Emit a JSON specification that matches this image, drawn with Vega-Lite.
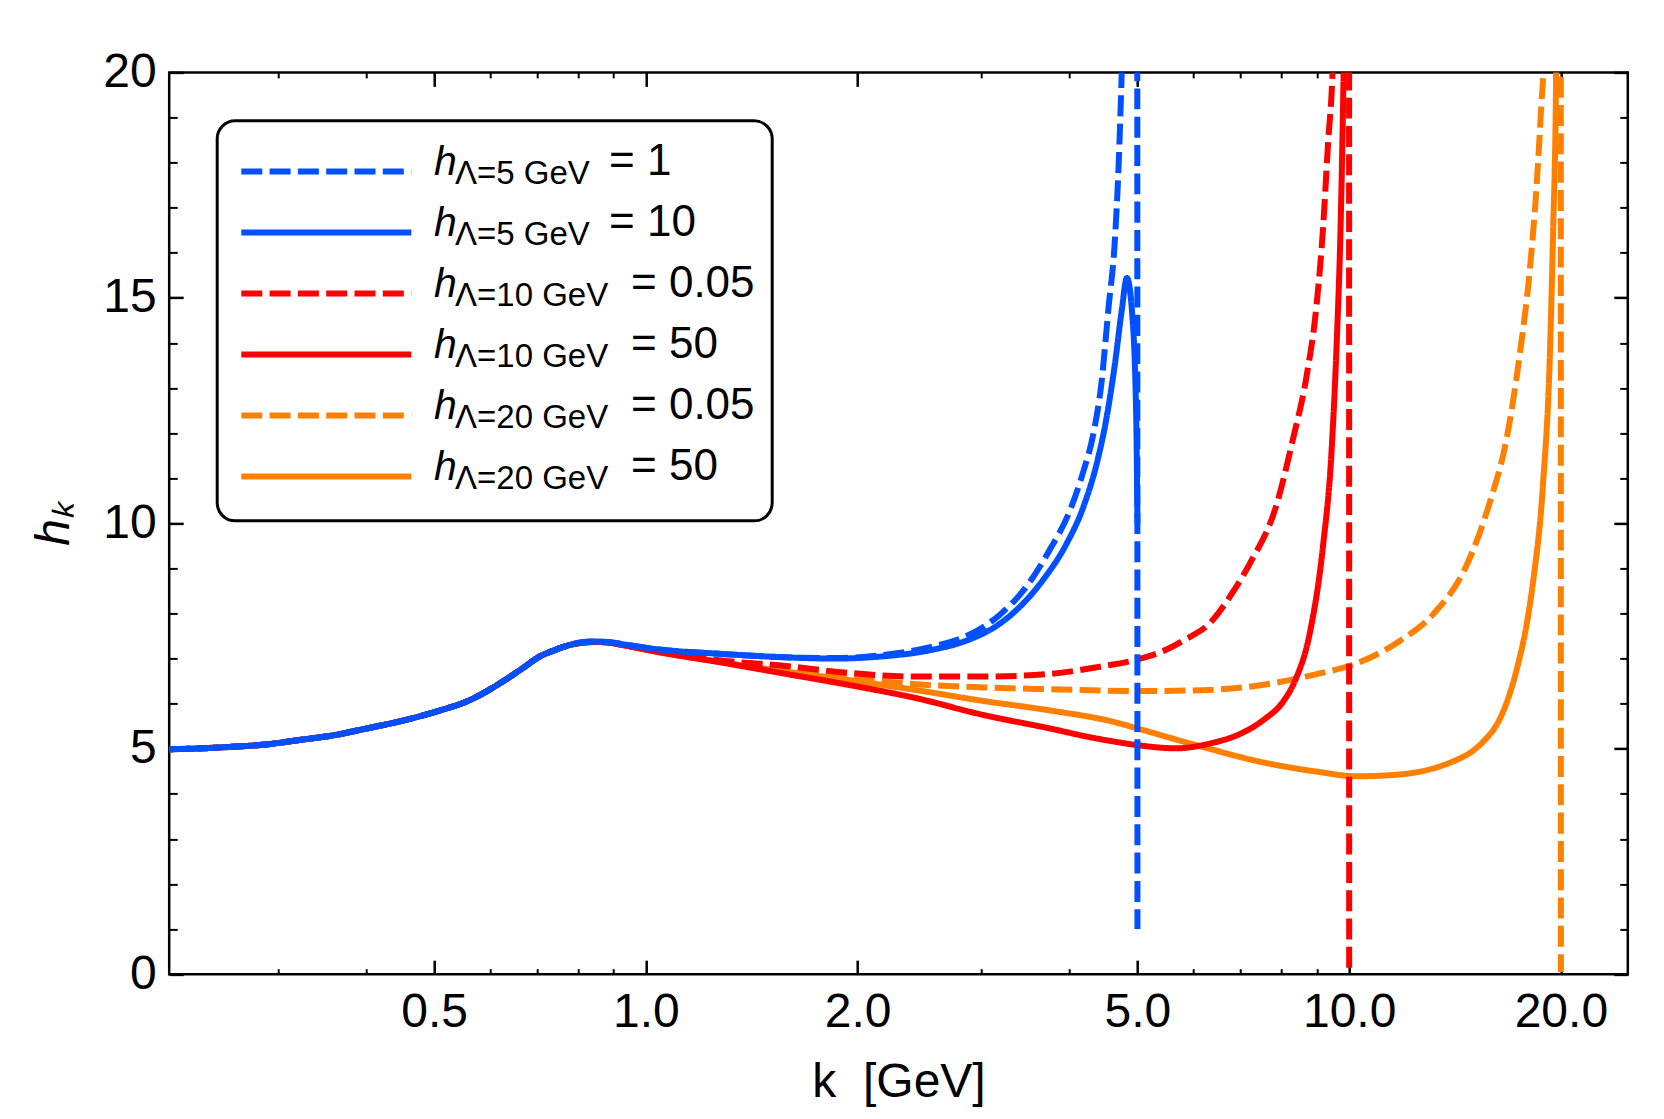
{
  "$schema": "https://vega.github.io/schema/vega-lite/v6.json",
  "width": 1458.6,
  "height": 901.8,
  "autosize": {"type": "none"},
  "padding": {"left": 169.2, "top": 72.4, "right": 36.2, "bottom": 144.8},
  "background": "white",
  "config": {
    "view": {"stroke": "black", "strokeWidth": 2.5},
    "font": "Liberation Sans",
    "axis": {"labelFont": "Liberation Sans", "titleFont": "Liberation Sans", "labelColor": "black", "titleColor": "black", "tickColor": "black", "grid": false, "domain": false}
  },
  "data": {"values": [
    {"s":"f","k":0.21,"h":4.99},{"s":"f","k":0.235,"h":5.01},{"s":"f","k":0.2555,"h":5.04},{"s":"f","k":0.29,"h":5.1},{"s":"f","k":0.32,"h":5.19},{"s":"f","k":0.36,"h":5.3},{"s":"f","k":0.401,"h":5.45},{"s":"f","k":0.45,"h":5.62},{"s":"f","k":0.502,"h":5.82},{"s":"f","k":0.562,"h":6.08},{"s":"f","k":0.63,"h":6.52},{"s":"f","k":0.67,"h":6.8},{"s":"f","k":0.705,"h":7.04},{"s":"f","k":0.74,"h":7.18},{"s":"f","k":0.771,"h":7.28},{"s":"f","k":0.81,"h":7.35},{"s":"f","k":0.844,"h":7.37},{"s":"f","k":0.89,"h":7.35},{"s":"f","k":0.934,"h":7.29},
    {"s":"f","k":1.045,"h":7.14},{"s":"f","k":1.261,"h":6.94},{"s":"f","k":1.569,"h":6.72},{"s":"f","k":1.951,"h":6.52},{"s":"f","k":2.427,"h":6.3},{"s":"f","k":3.018,"h":6.06},{"s":"f","k":3.754,"h":5.85},{"s":"f","k":4.67,"h":5.58},{"s":"f","k":5.0,"h":5.45},{"s":"f","k":6.19,"h":5.04},{"s":"f","k":7.48,"h":4.71},{"s":"f","k":9.02,"h":4.49},{"s":"f","k":10.23,"h":4.39},{"s":"f","k":11.59,"h":4.42},{"s":"f","k":13.14,"h":4.56},{"s":"f","k":14.2,"h":4.75},{"s":"f","k":14.89,"h":4.92},{"s":"f","k":15.6,"h":5.2},{"s":"f","k":16.3,"h":5.6},{"s":"f","k":16.9,"h":6.2},{"s":"f","k":17.4,"h":6.9},{"s":"f","k":17.9,"h":7.8},{"s":"f","k":18.26,"h":8.7},{"s":"f","k":18.87,"h":10.9},{"s":"f","k":19.29,"h":13.7},{"s":"f","k":19.5,"h":16.5},{"s":"f","k":19.67,"h":19.3},{"s":"f","k":19.72,"h":21},{"s":"f","k":19.9,"h":28},

    {"s":"e","k":0.21,"h":4.99},{"s":"e","k":0.235,"h":5.01},{"s":"e","k":0.2555,"h":5.04},{"s":"e","k":0.29,"h":5.1},{"s":"e","k":0.32,"h":5.19},{"s":"e","k":0.36,"h":5.3},{"s":"e","k":0.401,"h":5.45},{"s":"e","k":0.45,"h":5.62},{"s":"e","k":0.502,"h":5.82},{"s":"e","k":0.562,"h":6.08},{"s":"e","k":0.63,"h":6.52},{"s":"e","k":0.67,"h":6.8},{"s":"e","k":0.705,"h":7.04},{"s":"e","k":0.74,"h":7.18},{"s":"e","k":0.771,"h":7.28},{"s":"e","k":0.81,"h":7.35},{"s":"e","k":0.844,"h":7.37},{"s":"e","k":0.89,"h":7.35},{"s":"e","k":0.934,"h":7.29},
    {"s":"e","k":1.045,"h":7.15},{"s":"e","k":1.261,"h":6.95},{"s":"e","k":1.569,"h":6.82},{"s":"e","k":1.951,"h":6.58},{"s":"e","k":2.427,"h":6.43},{"s":"e","k":3.018,"h":6.36},{"s":"e","k":3.754,"h":6.32},{"s":"e","k":5.0,"h":6.28},{"s":"e","k":6.19,"h":6.3},{"s":"e","k":7.48,"h":6.41},{"s":"e","k":9.02,"h":6.66},{"s":"e","k":10.23,"h":6.89},{"s":"e","k":11.8,"h":7.39},{"s":"e","k":13.16,"h":7.98},{"s":"e","k":14.69,"h":9.07},{"s":"e","k":15.85,"h":10.47},{"s":"e","k":16.74,"h":11.87},{"s":"e","k":17.48,"h":13.74},{"s":"e","k":18.06,"h":15.6},{"s":"e","k":18.47,"h":17.47},{"s":"e","k":18.77,"h":19.34},{"s":"e","k":18.9,"h":20.2},{"s":"e","k":19.0,"h":22},{"s":"e","k":19.995,"h":30},{"s":"e","k":20.0,"h":0.05},

    {"s":"d","k":0.21,"h":4.99},{"s":"d","k":0.235,"h":5.01},{"s":"d","k":0.2555,"h":5.04},{"s":"d","k":0.29,"h":5.1},{"s":"d","k":0.32,"h":5.19},{"s":"d","k":0.36,"h":5.3},{"s":"d","k":0.401,"h":5.45},{"s":"d","k":0.45,"h":5.62},{"s":"d","k":0.502,"h":5.82},{"s":"d","k":0.562,"h":6.08},{"s":"d","k":0.63,"h":6.52},{"s":"d","k":0.67,"h":6.8},{"s":"d","k":0.705,"h":7.04},{"s":"d","k":0.74,"h":7.18},{"s":"d","k":0.771,"h":7.28},{"s":"d","k":0.81,"h":7.35},{"s":"d","k":0.844,"h":7.37},{"s":"d","k":0.89,"h":7.35},{"s":"d","k":0.934,"h":7.29},
    {"s":"d","k":1.045,"h":7.14},{"s":"d","k":1.261,"h":6.93},{"s":"d","k":1.569,"h":6.67},{"s":"d","k":1.951,"h":6.41},{"s":"d","k":2.427,"h":6.12},{"s":"d","k":3.018,"h":5.75},{"s":"d","k":3.754,"h":5.45},{"s":"d","k":4.3,"h":5.25},{"s":"d","k":4.67,"h":5.15},{"s":"d","k":5.0,"h":5.08},{"s":"d","k":5.68,"h":5.01},{"s":"d","k":6.35,"h":5.12},{"s":"d","k":7.02,"h":5.34},{"s":"d","k":7.57,"h":5.65},{"s":"d","k":8.06,"h":6.05},{"s":"d","k":8.37,"h":6.5},{"s":"d","k":8.8,"h":7.6},{"s":"d","k":9.18,"h":9.5},{"s":"d","k":9.44,"h":11.6},{"s":"d","k":9.6,"h":14.0},{"s":"d","k":9.72,"h":16.5},{"s":"d","k":9.8,"h":19.2},{"s":"d","k":9.84,"h":21},{"s":"d","k":9.9,"h":26},

    {"s":"c","k":0.21,"h":4.99},{"s":"c","k":0.235,"h":5.01},{"s":"c","k":0.2555,"h":5.04},{"s":"c","k":0.29,"h":5.1},{"s":"c","k":0.32,"h":5.19},{"s":"c","k":0.36,"h":5.3},{"s":"c","k":0.401,"h":5.45},{"s":"c","k":0.45,"h":5.62},{"s":"c","k":0.502,"h":5.82},{"s":"c","k":0.562,"h":6.08},{"s":"c","k":0.63,"h":6.52},{"s":"c","k":0.67,"h":6.8},{"s":"c","k":0.705,"h":7.04},{"s":"c","k":0.74,"h":7.18},{"s":"c","k":0.771,"h":7.28},{"s":"c","k":0.81,"h":7.35},{"s":"c","k":0.844,"h":7.37},{"s":"c","k":0.89,"h":7.35},{"s":"c","k":0.934,"h":7.29},
    {"s":"c","k":1.045,"h":7.16},{"s":"c","k":1.261,"h":6.97},{"s":"c","k":1.569,"h":6.84},{"s":"c","k":1.951,"h":6.68},{"s":"c","k":2.427,"h":6.6},{"s":"c","k":3.018,"h":6.6},{"s":"c","k":3.754,"h":6.66},{"s":"c","k":4.42,"h":6.82},{"s":"c","k":5.0,"h":6.98},{"s":"c","k":5.5,"h":7.2},{"s":"c","k":5.81,"h":7.4},{"s":"c","k":6.35,"h":7.8},{"s":"c","k":6.85,"h":8.5},{"s":"c","k":7.22,"h":9.1},{"s":"c","k":7.88,"h":10.4},{"s":"c","k":8.32,"h":11.87},{"s":"c","k":8.7,"h":13.27},{"s":"c","k":8.99,"h":14.86},{"s":"c","k":9.18,"h":16.54},{"s":"c","k":9.33,"h":18.4},{"s":"c","k":9.47,"h":19.99},{"s":"c","k":9.5,"h":20.6},{"s":"c","k":9.995,"h":30},{"s":"c","k":10.0,"h":0.05},

    {"s":"b","k":0.21,"h":4.99},{"s":"b","k":0.235,"h":5.01},{"s":"b","k":0.2555,"h":5.04},{"s":"b","k":0.29,"h":5.1},{"s":"b","k":0.32,"h":5.19},{"s":"b","k":0.36,"h":5.3},{"s":"b","k":0.401,"h":5.45},{"s":"b","k":0.45,"h":5.62},{"s":"b","k":0.502,"h":5.82},{"s":"b","k":0.562,"h":6.08},{"s":"b","k":0.63,"h":6.52},{"s":"b","k":0.67,"h":6.8},{"s":"b","k":0.705,"h":7.04},{"s":"b","k":0.74,"h":7.18},{"s":"b","k":0.771,"h":7.28},{"s":"b","k":0.81,"h":7.36},{"s":"b","k":0.844,"h":7.38},{"s":"b","k":0.89,"h":7.36},{"s":"b","k":0.934,"h":7.31},
    {"s":"b","k":1.045,"h":7.2},{"s":"b","k":1.261,"h":7.11},{"s":"b","k":1.569,"h":7.03},{"s":"b","k":1.847,"h":7.0},{"s":"b","k":2.176,"h":7.05},{"s":"b","k":2.563,"h":7.2},{"s":"b","k":2.858,"h":7.4},{"s":"b","k":3.19,"h":7.78},{"s":"b","k":3.366,"h":8.08},{"s":"b","k":3.673,"h":8.75},{"s":"b","k":3.965,"h":9.55},{"s":"b","k":4.19,"h":10.37},{"s":"b","k":4.375,"h":11.32},{"s":"b","k":4.52,"h":12.35},{"s":"b","k":4.645,"h":13.54},{"s":"b","k":4.75,"h":14.73},{"s":"b","k":4.83,"h":15.44},{"s":"b","k":4.91,"h":14.73},{"s":"b","k":4.98,"h":12.35},{"s":"b","k":5.0,"h":10.0},

    {"s":"a","k":0.21,"h":4.99},{"s":"a","k":0.235,"h":5.01},{"s":"a","k":0.2555,"h":5.04},{"s":"a","k":0.29,"h":5.1},{"s":"a","k":0.32,"h":5.19},{"s":"a","k":0.36,"h":5.3},{"s":"a","k":0.401,"h":5.45},{"s":"a","k":0.45,"h":5.62},{"s":"a","k":0.502,"h":5.82},{"s":"a","k":0.562,"h":6.08},{"s":"a","k":0.63,"h":6.52},{"s":"a","k":0.67,"h":6.8},{"s":"a","k":0.705,"h":7.04},{"s":"a","k":0.74,"h":7.18},{"s":"a","k":0.771,"h":7.28},{"s":"a","k":0.81,"h":7.36},{"s":"a","k":0.844,"h":7.38},{"s":"a","k":0.89,"h":7.36},{"s":"a","k":0.934,"h":7.31},
    {"s":"a","k":1.045,"h":7.2},{"s":"a","k":1.261,"h":7.11},{"s":"a","k":1.569,"h":7.03},{"s":"a","k":1.847,"h":7.01},{"s":"a","k":2.176,"h":7.08},{"s":"a","k":2.563,"h":7.27},{"s":"a","k":2.858,"h":7.5},{"s":"a","k":3.19,"h":7.98},{"s":"a","k":3.478,"h":8.6},{"s":"a","k":3.754,"h":9.42},{"s":"a","k":4.01,"h":10.29},{"s":"a","k":4.19,"h":11.16},{"s":"a","k":4.325,"h":11.96},{"s":"a","k":4.446,"h":13.14},{"s":"a","k":4.545,"h":14.73},{"s":"a","k":4.645,"h":16.31},{"s":"a","k":4.7,"h":17.9},{"s":"a","k":4.75,"h":20.03},{"s":"a","k":4.77,"h":21},{"s":"a","k":4.995,"h":30},{"s":"a","k":5.0,"h":1.0}
  ]},
  "layer": [
    {
      "mark": {"type": "line", "clip": true, "strokeWidth": 6, "interpolate": "monotone"},
      "encoding": {
        "x": {"field": "k", "type": "quantitative",
          "scale": {"type": "log", "domain": [0.21, 24.9], "nice": false},
          "axis": {"orient": "bottom", "values": [0.5, 1, 2, 5, 10, 20], "format": ".1f", "labelFontSize": 48, "labelPadding": 28, "tickSize": -14, "tickWidth": 2.5, "labelFlush": false, "labelOverlap": false, "title": "k\u00a0 [GeV]", "titleFontSize": 48, "titleFontWeight": "normal", "titlePadding": 22}},
        "y": {"field": "h", "type": "quantitative",
          "scale": {"domain": [0, 20], "nice": false, "zero": false},
          "axis": {"orient": "left", "values": [0, 5, 10, 15, 20], "format": "d", "labelFontSize": 48, "labelPadding": 27, "tickSize": -14, "tickWidth": 2.5, "labelFlush": false, "labelOverlap": false, "title": "hₖ", "titleFontSize": 48, "titleFontStyle": "italic", "titleFontWeight": "normal", "titlePadding": 24}},
        "color": {"field": "s", "type": "nominal",
          "scale": {"domain": ["a","b","c","d","e","f"], "range": ["#0050ff", "#0050ff", "#ff0000", "#ff0000", "#ff8000", "#ff8000"]},
          "legend": {"orient": "none", "legendX": 69.1, "legendY": 68.95, "direction": "vertical", "title": null, "symbolType": "stroke", "symbolSize": 28900, "symbolStrokeWidth": 6, "symbolOffset": 0, "labelOffset": 19.7, "labelFont": "Liberation Sans", "labelFontSize": 41, "labelFontStyle": "italic", "labelColor": "black", "labelBaseline": "alphabetic", "labelLimit": 2000, "labelExpr": "'h'", "clipHeight": 60.3, "rowPadding": 0, "padding": 0, "encode": {"symbols": {"update": {"strokeDash": {"signal": "(datum.value == 'a' || datum.value == 'c' || datum.value == 'e') ? [21, 7.3] : [1, 0]"}}}, "labels": {"update": {"dy": {"value": 3}}}}}},
        "strokeDash": {"field": "s", "type": "nominal",
          "scale": {"domain": ["a","b","c","d","e","f"], "range": [[21, 7.3], [1, 0], [21, 7.3], [1, 0], [21, 7.3], [1, 0]]},
          "legend": null},
        "opacity": {"field": "s", "type": "nominal",
          "scale": {"domain": ["a","b","c","d","e","f","g"], "range": [1, 1]},
          "legend": {"orient": "none", "legendX": 69.1, "legendY": 68.95, "direction": "vertical", "values": ["a","b","c","d","e","f"], "title": null, "symbolSize": 0, "symbolStrokeWidth": 0, "symbolOffset": 0, "labelOffset": 183.7, "labelFont": "Liberation Sans", "labelFontSize": 33, "labelColor": "black", "labelBaseline": "alphabetic", "labelLimit": 2000, "labelExpr": "(datum.value == 'a' || datum.value == 'b') ? 'Λ=5 GeV' : ((datum.value == 'c' || datum.value == 'd') ? 'Λ=10 GeV' : 'Λ=20 GeV')", "clipHeight": 60.3, "rowPadding": 0, "padding": 0, "encode": {"symbols": {"update": {"opacity": {"value": 0}}}, "labels": {"update": {"dy": {"value": 12.5}}}}}}
      }
    },
    {
      "mark": {"type": "line", "opacity": 0},
      "encoding": {
        "x": {"field": "k", "type": "quantitative", "scale": {"type": "log", "domain": [0.21, 24.9], "nice": false},
          "axis": {"orient": "bottom", "values": [0.3, 0.4, 0.6, 0.7, 0.8, 0.9, 3, 4, 6, 7, 8, 9], "labels": false, "tickSize": -5.5, "tickWidth": 2, "title": null}},
        "y": {"field": "h", "type": "quantitative", "scale": {"domain": [0, 20], "nice": false, "zero": false},
          "axis": {"orient": "left", "values": [1, 2, 3, 4, 6, 7, 8, 9, 11, 12, 13, 14, 16, 17, 18, 19], "labels": false, "tickSize": -8, "tickWidth": 2, "title": null}},
        "color": {"field": "s", "type": "nominal",
          "scale": {"domain": ["a","b","c","d","e","f"], "range": ["#0050ff", "#0050ff", "#ff0000", "#ff0000", "#ff8000", "#ff8000"]},
          "legend": {"orient": "none", "legendX": 48, "legendY": 48.45, "direction": "vertical", "title": null, "symbolType": "stroke", "symbolSize": 0, "symbolStrokeWidth": 0, "symbolOffset": 0, "labelOffset": 330.8, "labelFont": "Liberation Sans", "labelFontSize": 44, "labelColor": "black", "labelBaseline": "alphabetic", "labelLimit": 2000, "labelExpr": "datum.value == 'a' ? '= 1' : (datum.value == 'b' ? '= 10' : ((datum.value == 'c' || datum.value == 'e') ? '\u200b\u2002= 0.05' : '\u200b\u2002= 50'))", "clipHeight": 60.3, "rowPadding": 0, "padding": 17, "strokeColor": "black", "cornerRadius": 18, "encode": {"legend": {"update": {"strokeWidth": {"value": 3}}}, "symbols": {"update": {"opacity": {"value": 0}}}, "labels": {"update": {"dy": {"value": 6.5}}}}}}
      }
    },
    {
      "mark": {"type": "line", "opacity": 0},
      "encoding": {
        "x": {"field": "k", "type": "quantitative", "scale": {"type": "log", "domain": [0.21, 24.9], "nice": false},
          "axis": {"orient": "top", "values": [0.5, 1, 2, 5, 10, 20], "labels": false, "tickSize": -14, "tickWidth": 2.5, "title": null}},
        "y": {"field": "h", "type": "quantitative", "scale": {"domain": [0, 20], "nice": false, "zero": false},
          "axis": {"orient": "right", "values": [0, 5, 10, 15, 20], "labels": false, "tickSize": -14, "tickWidth": 2.5, "title": null}}
      }
    },
    {
      "mark": {"type": "line", "opacity": 0},
      "encoding": {
        "x": {"field": "k", "type": "quantitative", "scale": {"type": "log", "domain": [0.21, 24.9], "nice": false},
          "axis": {"orient": "top", "values": [0.3, 0.4, 0.6, 0.7, 0.8, 0.9, 3, 4, 6, 7, 8, 9], "labels": false, "tickSize": -5.5, "tickWidth": 2, "title": null}},
        "y": {"field": "h", "type": "quantitative", "scale": {"domain": [0, 20], "nice": false, "zero": false},
          "axis": {"orient": "right", "values": [1, 2, 3, 4, 6, 7, 8, 9, 11, 12, 13, 14, 16, 17, 18, 19], "labels": false, "tickSize": -8, "tickWidth": 2, "title": null}}
      }
    }
  ],
  "resolve": {"axis": {"x": "independent", "y": "independent"}, "legend": {"color": "independent"}}
}
